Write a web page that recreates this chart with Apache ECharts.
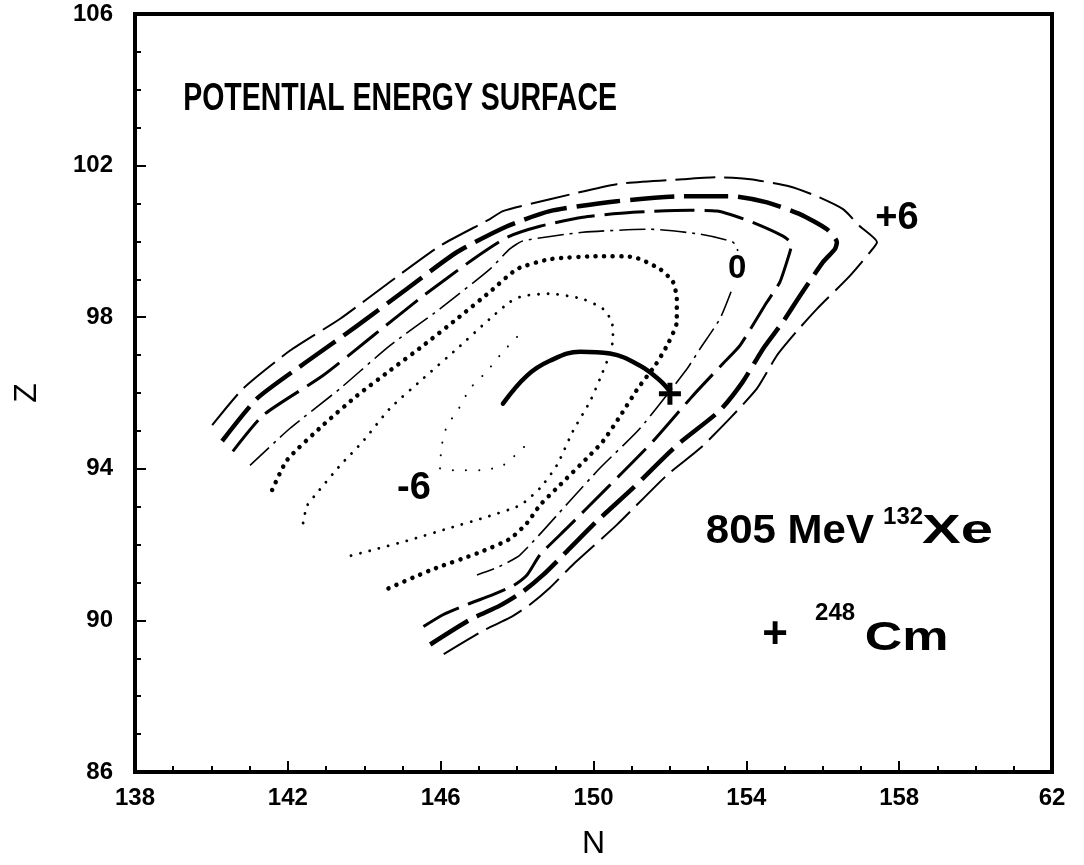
<!DOCTYPE html>
<html>
<head>
<meta charset="utf-8">
<script src="https://cdn.jsdelivr.net/npm/echarts@6/dist/echarts.min.js"></script>
<style>
html,body{margin:0;padding:0;background:#fff;}
#chart{width:1084px;height:865px;}
</style>
</head>
<body>
<div id="chart"></div>
<script>
// ---- axis ticks ----
const xTicks = [138, 142, 146, 150, 154, 158, 162];
const xTickLabels = ['138', '142', '146', '150', '154', '158', '62'];
const yTicks = [86, 90, 94, 98, 102, 106];
const yTickLabels = ['86', '90', '94', '98', '102', '106'];

// ---- contour lines (N, Z) ----
const contourP6 = [[140.02,95.15],[140.83,96.12],[142.06,97.12],[143.37,97.96],[144.67,98.93],[145.98,99.88],[147.29,100.59],[147.63,100.80],[148.86,101.11],[150.61,101.51],[152.34,101.64],[153.23,101.69],[154.10,101.64],[155.14,101.45],[155.85,101.19],[156.53,100.85],[156.97,100.40],[157.42,99.98],[157.24,99.72],[156.71,99.09],[155.85,98.22],[155.33,97.64],[154.80,96.99],[154.28,96.12],[153.57,95.33],[152.79,94.54],[151.92,93.83],[150.61,92.52],[149.46,91.47],[148.86,90.86],[148.34,90.42],[147.81,90.07],[147.11,89.73],[146.06,89.10]];
const contourP4 = [[140.28,94.73],[141.19,95.85],[142.50,96.83],[143.81,97.77],[145.12,98.75],[146.43,99.72],[147.74,100.40],[148.86,100.80],[150.61,101.06],[152.34,101.19],[153.65,101.19],[154.54,101.03],[155.40,100.72],[156.11,100.32],[156.37,99.98],[156.32,99.80],[156.01,99.46],[155.40,98.56],[154.96,97.88],[154.44,97.17],[153.91,96.30],[153.31,95.54],[152.18,94.62],[151.03,93.49],[150.09,92.62],[149.31,91.83],[148.68,91.20],[148.15,90.76],[147.55,90.39],[146.77,90.02],[145.72,89.36]];
const contourP2 = [[140.56,94.46],[141.35,95.41],[142.92,96.46],[144.23,97.51],[145.54,98.56],[146.85,99.53],[147.74,100.11],[148.60,100.40],[149.72,100.64],[151.03,100.77],[152.52,100.82],[153.23,100.80],[154.10,100.53],[154.96,100.14],[155.19,99.93],[155.14,99.72],[154.88,98.93],[154.54,98.40],[153.83,97.25],[153.39,96.78],[152.60,95.93],[151.56,94.73],[150.35,93.49],[149.31,92.44],[148.60,91.73],[148.26,91.20],[147.89,90.91],[147.37,90.68],[146.69,90.42],[146.06,90.15],[145.38,89.73]];
const contour0Upper = [[141.01,94.09],[142.06,95.07],[143.37,96.12],[144.67,97.25],[145.98,98.22],[147.29,99.27],[147.81,99.80],[148.15,100.01],[149.72,100.24],[151.48,100.32],[152.79,100.19],[153.65,99.98],[153.78,99.75]];
const contour0Lower = [[153.60,98.67],[153.31,97.96],[152.79,97.17],[152.45,96.64],[151.22,95.07],[150.17,94.02],[149.38,93.15],[148.08,91.73],[147.47,91.39],[146.95,91.20]];
const contourM2 = [[141.59,93.44],[141.98,94.23],[142.92,95.15],[143.81,95.93],[144.67,96.59],[145.54,97.25],[146.43,97.96],[147.29,98.67],[148.00,99.27],[148.86,99.53],[150.17,99.61],[151.03,99.59],[151.74,99.27],[152.08,98.93],[152.18,98.48],[152.18,97.88],[151.95,97.30],[151.61,96.72],[151.16,96.12],[150.69,95.38],[150.25,94.73],[149.83,94.28],[149.12,93.57],[148.60,93.04],[148.26,92.57],[147.81,92.15],[146.98,91.78],[145.77,91.34],[144.49,90.78]];
const contourM4 = [[142.40,92.57],[142.50,93.02],[142.76,93.36],[143.37,94.09],[143.97,94.73],[144.67,95.59],[145.54,96.38],[146.43,97.17],[147.29,97.96],[147.81,98.40],[148.15,98.56],[148.86,98.62],[149.72,98.48],[150.25,98.22],[150.48,97.88],[150.51,97.43],[150.43,97.04],[150.17,96.38],[149.91,95.78],[149.46,94.99],[149.04,94.09],[148.60,93.49],[148.08,93.04],[147.11,92.70],[146.24,92.44],[145.12,92.10],[144.23,91.86],[143.44,91.65]];
const contourM6 = [[148.00,97.48],[147.63,97.09],[147.21,96.57],[146.77,96.12],[146.43,95.51],[146.17,95.15],[146.03,94.62],[145.98,94.02],[146.43,93.96],[147.03,93.96],[147.63,94.09],[148.34,94.73]];
const fusionPath = [[147.63,95.72],[148.26,96.46],[148.86,96.85],[149.65,97.09],[150.43,97.04],[151.22,96.72],[151.74,96.33],[152.00,96.04]];
const pathEnd = [[152.00, 95.98]];

// ---- text annotations (anchor in N, Z) ----
const annTitle = { text: 'POTENTIAL ENERGY SURFACE', at: [139.26, 103.74] };
const annLevels = [
  { text: '0', at: [153.76, 99.27] },
  { text: '+6', at: [157.94, 100.61] },
  { text: '-6', at: [145.30, 93.49] }
];
const annReaction = [
  { text: '805 MeV', at: [152.94, 92.33], kind: 'big' },
  { text: '132', at: [157.58, 92.73], kind: 'sup' },
  { text: 'Xe', at: [158.60, 92.33], kind: 'wide' },
  { text: '+', at: [154.75, 89.60], kind: 'plus' },
  { text: '248', at: [155.80, 90.18], kind: 'sup' },
  { text: 'Cm', at: [157.10, 89.52], kind: 'wide2' }
];

const FONT = "'Liberation Sans', Arial, Helvetica, sans-serif";
const chart = echarts.init(document.getElementById('chart'), null, { renderer: 'canvas' });

function lineSeries(data, width, dash, cap, smooth) {
  return {
    type: 'line', data: data, showSymbol: false, symbol: 'none', smooth: smooth,
    silent: true, z: 3,
    lineStyle: { color: '#000', width: width, type: dash, cap: cap || 'butt', join: 'round', opacity: 1 }
  };
}

const option = {
  animation: false,
  backgroundColor: '#fff',
  grid: { left: 135, right: 32, top: 14, bottom: 90, show: true, borderColor: '#000', borderWidth: 4, backgroundColor: 'transparent' },
  xAxis: {
    type: 'value', min: 138, max: 162, interval: 4,
    name: 'N', nameLocation: 'middle', nameGap: 56,
    nameTextStyle: { fontFamily: FONT, fontSize: 32, color: '#000' },
    axisLine: { show: true, lineStyle: { color: '#000', width: 4 } },
    axisTick: { show: true, inside: true, length: 11, lineStyle: { color: '#000', width: 2 } },
    minorTick: { show: true, splitNumber: 4, length: 6, lineStyle: { color: '#000', width: 2 } },
    splitLine: { show: false },
    axisLabel: {
      fontFamily: FONT, fontSize: 24, fontWeight: 'bold', color: '#000', margin: 14,
      formatter: function (v) { const i = xTicks.indexOf(v); return i >= 0 ? xTickLabels[i] : ''; }
    }
  },
  yAxis: {
    type: 'value', min: 86, max: 106, interval: 4,
    name: 'Z', nameLocation: 'middle', nameGap: 92, nameRotate: 90,
    nameTextStyle: { fontFamily: FONT, fontSize: 32, color: '#000' },
    axisLine: { show: true, lineStyle: { color: '#000', width: 4 } },
    axisTick: { show: true, inside: true, length: 11, lineStyle: { color: '#000', width: 2 } },
    minorTick: { show: true, splitNumber: 4, length: 6, lineStyle: { color: '#000', width: 2 } },
    splitLine: { show: false },
    axisLabel: {
      fontFamily: FONT, fontSize: 24, fontWeight: 'bold', color: '#000', margin: 22,
      formatter: function (v) { const i = yTicks.indexOf(v); return i >= 0 ? yTickLabels[i] : ''; }
    }
  },
  series: [
    lineSeries(contourP6, 2, [40, 9], 'butt', 0.2),
    lineSeries(contourP4, 4.5, [44, 10], 'butt', 0.2),
    lineSeries(contourP2, 3, [40, 10], 'butt', 0.2),
    lineSeries(contour0Upper, 1.6, [26, 6, 3, 6], 'butt', 0.2),
    lineSeries(contour0Lower, 1.6, [26, 6, 3, 6], 'butt', 0.2),
    lineSeries(contourM2, 4.5, [0.1, 8.5], 'round', 0.2),
    lineSeries(contourM4, 2.8, [0.1, 9.5], 'round', 0.2),
    lineSeries(contourM6, 2, [0.1, 13], 'round', 0.2),
    lineSeries(fusionPath, 4.5, 'solid', 'round', 0.4),
    {
      type: 'scatter', data: pathEnd, silent: true, z: 4,
      symbol: 'path://M8.5,0H13.5V8.5H22V13.5H13.5V22H8.5V13.5H0V8.5H8.5Z', symbolSize: [22, 22],
      itemStyle: { color: '#000', opacity: 1 }
    }
  ]
};
chart.setOption(option);

function px(at) { return chart.convertToPixel({ gridIndex: 0 }, at); }

const graphics = [];
{
  const p = px(annTitle.at);
  graphics.push({
    type: 'text', x: p[0], y: p[1], scaleY: 1.38, z: 10,
    style: { text: annTitle.text, font: "bold 28.5px " + FONT, fill: '#000', align: 'left', verticalAlign: 'middle' }
  });
}
annLevels.forEach(function (a) {
  const p = px(a.at);
  const font = a.text === '0' ? "bold 33px " + FONT : "bold 38px " + FONT;
  graphics.push({
    type: 'text', x: p[0], y: p[1], z: 10,
    style: { text: a.text, font: font, fill: '#000', align: 'center', verticalAlign: 'middle' }
  });
});
annReaction.forEach(function (a) {
  const p = px(a.at);
  let font = "bold 40px " + FONT, sx = 1, align = 'left';
  if (a.kind === 'big') { sx = 1.05; }
  if (a.kind === 'sup') { font = "bold 24px " + FONT; }
  if (a.kind === 'wide') { sx = 1.45; }
  if (a.kind === 'wide2') { sx = 1.3; }
  if (a.kind === 'plus') { font = "bold 44px " + FONT; align = 'center'; }
  graphics.push({
    type: 'text', x: p[0], y: p[1], scaleX: sx, z: 10,
    style: { text: a.text, font: font, fill: '#000', align: align, verticalAlign: 'middle' }
  });
});
chart.setOption({ graphic: graphics });
</script>
</body>
</html>
